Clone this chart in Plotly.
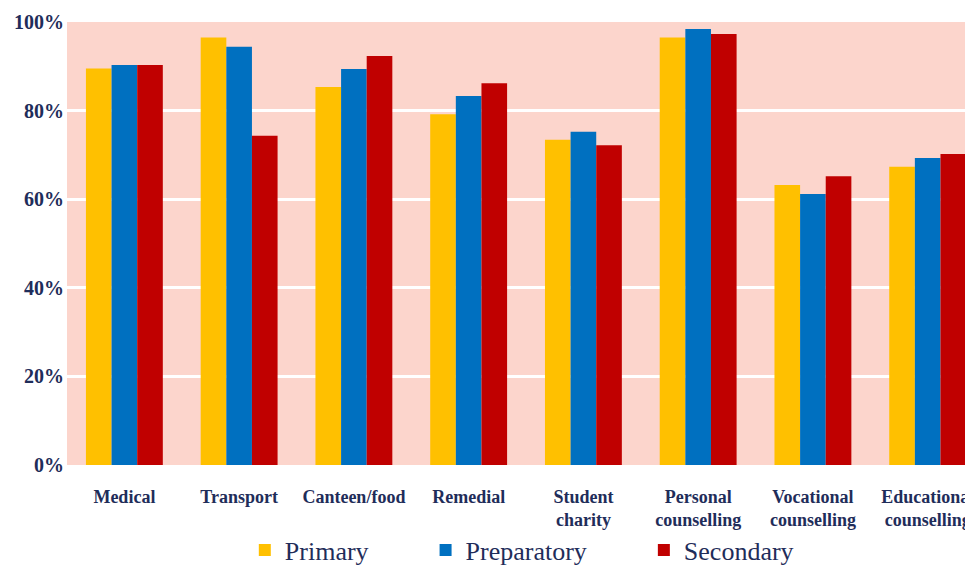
import plotly.graph_objects as go

categories = ["Medical", "Transport", "Canteen/food", "Remedial", "Student<br>charity",
              "Personal<br>counselling", "Vocational<br>counselling", "Educational<br>counselling"]
primary = [89.5, 96.5, 85.3, 79.2, 73.4, 96.5, 63.2, 67.3]
preparatory = [90.3, 94.4, 89.4, 83.3, 75.2, 98.4, 61.2, 69.3]
secondary = [90.3, 74.3, 92.3, 86.2, 72.2, 97.3, 65.2, 70.2]
y_ticks = [0, 20, 40, 60, 80, 100]
y_tick_labels = ["0%", "20%", "40%", "60%", "80%", "100%"]

navy = "#1F2D5A"
serif = "Liberation Serif, Times New Roman, serif"
pad = "\u00a0" * 8

fig = go.Figure()
for name, vals, col in [("Primary" + pad, primary, "#FFC000"),
                        ("Preparatory" + pad, preparatory, "#0070C0"),
                        ("Secondary", secondary, "#C00000")]:
    fig.add_trace(go.Bar(name=name, x=categories, y=vals, marker=dict(color=col, line=dict(width=0))))

fig.update_layout(
    width=965, height=559,
    margin=dict(l=59, r=0, t=14, b=102, autoexpand=False),
    barmode="group", bargap=0.33, bargroupgap=0,
    plot_bgcolor="#FCD5CC", paper_bgcolor="white",
    font=dict(family=serif, color=navy),
    showlegend=True,
    legend=dict(orientation="h", x=0.502, xanchor="center", y=-0.192, yanchor="middle",
                font=dict(size=26, family=serif, color=navy), itemwidth=30,
                bgcolor="rgba(0,0,0,0)", traceorder="normal"),
    xaxis=dict(range=[-0.5, 7.395], showgrid=False, zeroline=False, showline=False, ticks="",
               tickfont=dict(size=18, family=serif, color=navy, weight="bold"),
               ticklabelstandoff=19, automargin=False),
    yaxis=dict(range=[0, 100], tickvals=y_ticks, ticktext=y_tick_labels,
               showgrid=True, gridcolor="white", gridwidth=3, zeroline=False,
               showline=False, ticks="", automargin=False,
               tickfont=dict(size=20, family=serif, color=navy, weight="bold"),
               ticklabelstandoff=2),
)

fig.write_html("out.html")
